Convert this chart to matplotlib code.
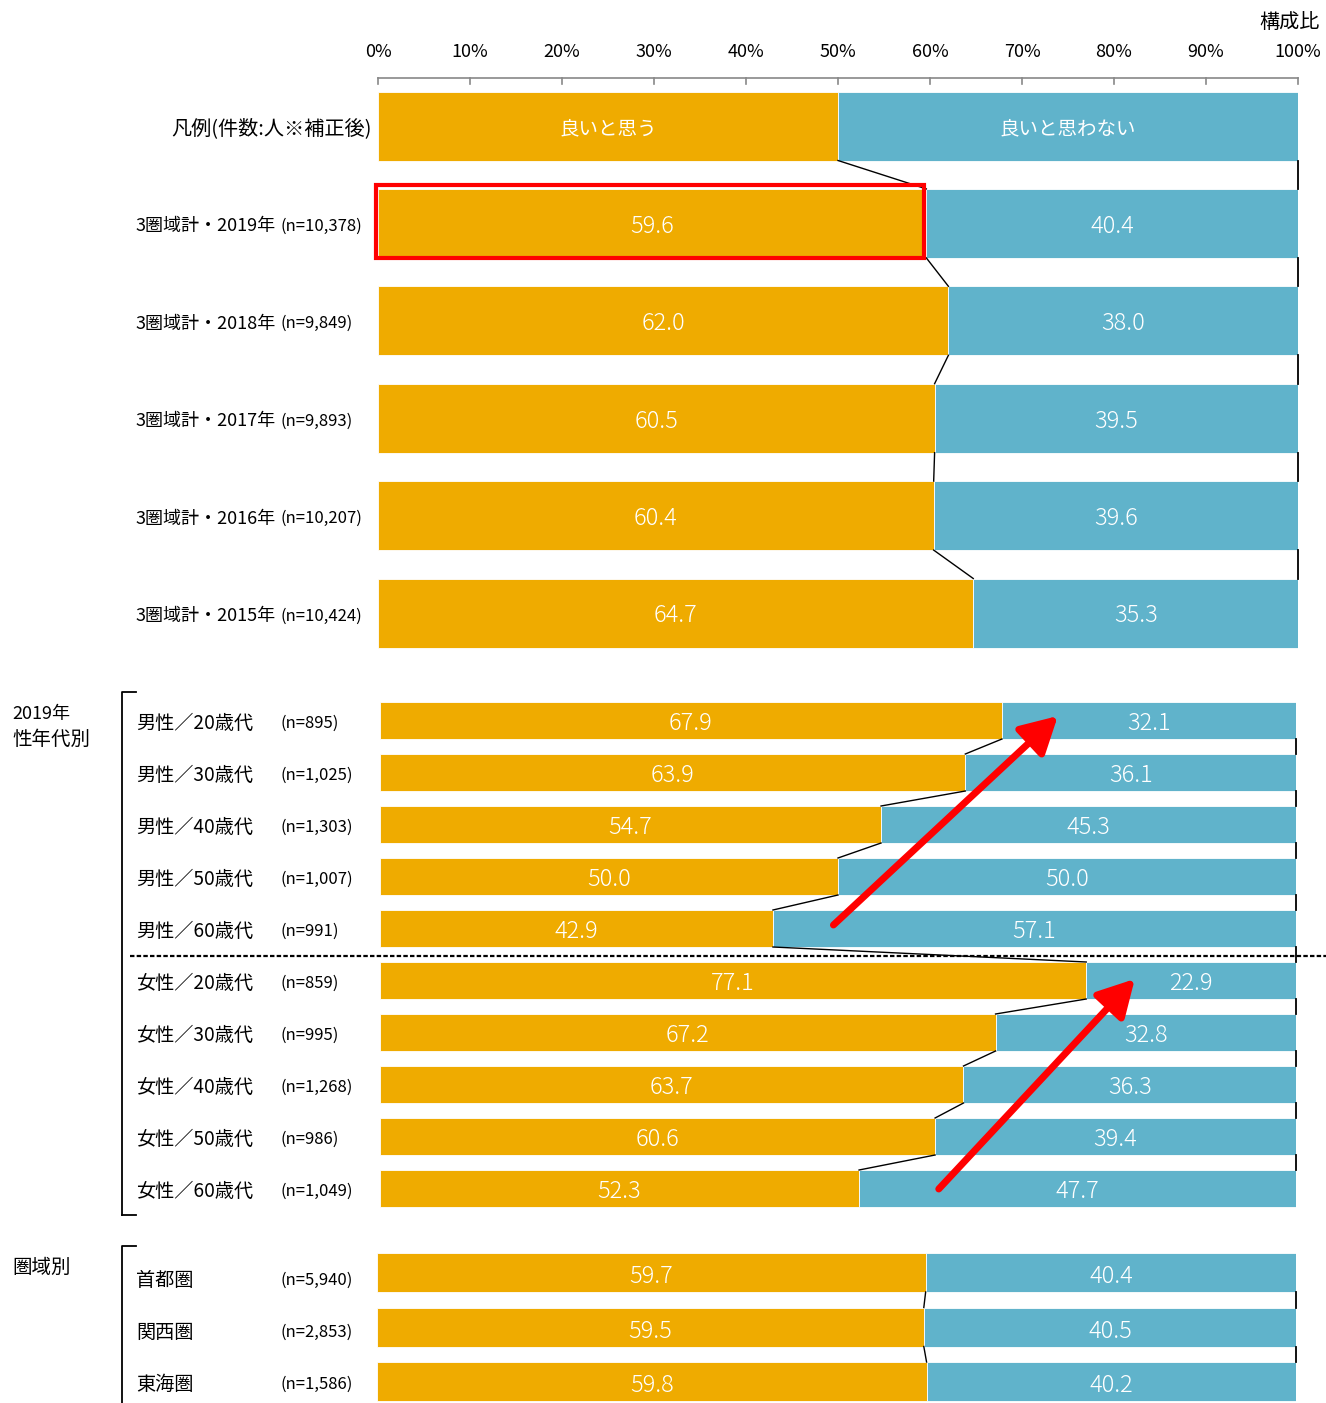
import matplotlib.pyplot as plt
from matplotlib.lines import Line2D
from matplotlib.patches import Rectangle

plt.rcParams['font.family'] = ['Noto Sans CJK JP', 'DejaVu Sans']

W, H = 1326, 1403
ORANGE = '#EFAB00'
BLUE = '#60B3CB'
DY = 3  # 文字の縦位置補正（px）

# データ
legend_labels = ['良いと思う', '良いと思わない']
legend_share = [50, 50]

trend_names = ['3圏域計・2019年', '3圏域計・2018年', '3圏域計・2017年',
               '3圏域計・2016年', '3圏域計・2015年']
trend_n = ['(n=10,378)', '(n=9,849)', '(n=9,893)', '(n=10,207)', '(n=10,424)']
trend_good = [59.6, 62.0, 60.5, 60.4, 64.7]
trend_bad = [40.4, 38.0, 39.5, 39.6, 35.3]

age_names = ['男性／20歳代', '男性／30歳代', '男性／40歳代', '男性／50歳代', '男性／60歳代',
             '女性／20歳代', '女性／30歳代', '女性／40歳代', '女性／50歳代', '女性／60歳代']
age_n = ['(n=895)', '(n=1,025)', '(n=1,303)', '(n=1,007)', '(n=991)',
         '(n=859)', '(n=995)', '(n=1,268)', '(n=986)', '(n=1,049)']
age_good = [67.9, 63.9, 54.7, 50.0, 42.9, 77.1, 67.2, 63.7, 60.6, 52.3]
age_bad = [32.1, 36.1, 45.3, 50.0, 57.1, 22.9, 32.8, 36.3, 39.4, 47.7]

area_names = ['首都圏', '関西圏', '東海圏']
area_n = ['(n=5,940)', '(n=2,853)', '(n=1,586)']
area_good = [59.7, 59.5, 59.8]
area_bad = [40.4, 40.5, 40.2]

fig = plt.figure(figsize=(W / 100, H / 100), dpi=100)


def fx(x):
    return x / W


def fy(y):
    return 1 - y / H


def make_ax(x0, x1):
    ax = fig.add_axes([fx(x0), 0, (x1 - x0) / W, 1])
    ax.set_xlim(0, 100)
    ax.set_ylim(H, 0)
    ax.axis('off')
    return ax


def draw_panel(ax, ys, h, good, bad):
    ax.barh(ys, good, height=h, color=ORANGE, edgecolor='white', linewidth=0.6)
    ax.barh(ys, bad, left=good, height=h, color=BLUE, edgecolor='white', linewidth=0.6)
    for i in range(len(ys) - 1):
        # 連結線と右端の線
        ax.plot([good[i], good[i + 1]], [ys[i] + h / 2, ys[i + 1] - h / 2],
                color='black', lw=1, clip_on=False)
        ax.plot([100, 100], [ys[i] + h / 2, ys[i + 1] - h / 2],
                color='black', lw=1.3, clip_on=False)


def value_labels(ax, ys, good, bad, dy=0):
    for y, g, b in zip(ys, good, bad):
        ax.text(g / 2, y + DY + dy, f'{g:.1f}', color='white', fontsize=17,
                fontweight='light', ha='center', va='center')
        ax.text(g + b / 2, y + DY + dy, f'{b:.1f}', color='white', fontsize=17,
                fontweight='light', ha='center', va='center')


def label_rows(ys, names, ns, fs=13, fsn=12):
    for y, name, n in zip(ys, names, ns):
        fig.text(fx(136), fy(y + DY), name, fontsize=fs, ha='left', va='center')
        fig.text(fx(280), fy(y + DY), n, fontsize=fsn, ha='left', va='center')


# 上段（凡例＋年次推移）
ax1 = make_ax(378, 1298)
ys1 = [126 + 97.4 * i for i in range(6)]
h1 = 69
good1 = [legend_share[0]] + trend_good
bad1 = [legend_share[1]] + trend_bad
draw_panel(ax1, ys1, h1, good1, bad1)
ax1.text(good1[0] / 2, ys1[0] + DY, legend_labels[0], color='white', fontsize=14,
         ha='center', va='center')
ax1.text(good1[0] + bad1[0] / 2, ys1[0] + DY, legend_labels[1], color='white', fontsize=14,
         ha='center', va='center')
value_labels(ax1, ys1[1:], trend_good, trend_bad)

# 目盛り
ax1.plot([0, 100], [78, 78], color='#888888', lw=1.2, clip_on=False)
for t in range(0, 101, 10):
    ax1.plot([t, t], [78, 84], color='#888888', lw=1.2, clip_on=False)
    ax1.text(t, 49 + DY, f'{t}%', fontsize=13, ha='center', va='center')
fig.text(fx(1320), fy(20 + DY), '構成比', fontsize=14.5, ha='right', va='center')

# 強調枠
ax1.add_patch(Rectangle((-0.2, 185), trend_good[0] - 0.1, 73, fill=False,
                        edgecolor='#FF0000', lw=3, clip_on=False, zorder=5))

fig.text(fx(372), fy(ys1[0] + DY), '凡例(件数:人※補正後)', fontsize=14.5,
         ha='right', va='center')
label_rows(ys1[1:], trend_names, trend_n)

# 中段（性年代別）
ax2 = make_ax(380, 1296)
ys2 = [720.5 + 52 * i for i in range(10)]
h2 = 37
draw_panel(ax2, ys2, h2, age_good, age_bad)
value_labels(ax2, ys2, age_good, age_bad)
label_rows(ys2, age_names, age_n, fs=13.8)

arrow = dict(arrowstyle='-|>,head_length=1.0,head_width=0.55', color='#FF0000',
             lw=5, mutation_scale=22, shrinkA=0, shrinkB=0)
ax2.annotate('', xy=(74.0, 716), xytext=(49.5, 925), arrowprops=arrow, zorder=6)
ax2.annotate('', xy=(82.4, 979), xytext=(61.0, 1189), arrowprops=arrow, zorder=6)

fig.add_artist(Line2D([fx(130), 1], [fy(956), fy(956)], color='black', lw=1.6,
                      linestyle=(0, (2, 1))))

# 下段（圏域別）
ax3 = make_ax(377, 1296)
ys3 = [1272.5 + 54.5 * i for i in range(3)]
h3 = 39
draw_panel(ax3, ys3, h3, area_good, area_bad)
value_labels(ax3, ys3, area_good, area_bad, dy=1)
label_rows([1277 + 52 * i for i in range(3)], area_names, area_n, fs=13.8)

# グループ見出しと括弧
fig.text(fx(12), fy(711 + DY), '2019年', fontsize=13, ha='left', va='center')
fig.text(fx(12), fy(736 + DY), '性年代別', fontsize=14, ha='left', va='center')
fig.text(fx(12), fy(1264 + DY), '圏域別', fontsize=14, ha='left', va='center')
for top, bottom in [(692, 1215), (1246, 1410)]:
    fig.add_artist(Line2D([fx(136), fx(122), fx(122)], [fy(top), fy(top), fy(bottom)],
                          color='black', lw=1.3))
fig.add_artist(Line2D([fx(122), fx(136)], [fy(1215), fy(1215)], color='black', lw=1.3))

fig.savefig('out.png', dpi=100)
